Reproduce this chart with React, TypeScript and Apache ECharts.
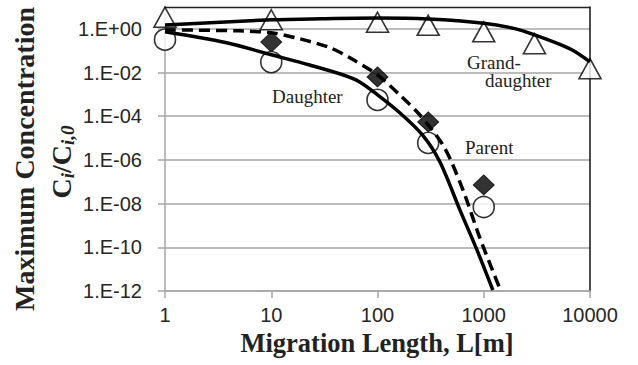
import React, { useEffect, useRef } from 'react';
import * as echarts from 'echarts';

// Axis ticks (raw values)
const xTickValues = [1, 10, 100, 1000, 10000];
const yTickValues = [1e-12, 1e-10, 1e-8, 1e-6, 1e-4, 1e-2, 1];
const yMin = 1e-12;
const yMax = 10;
const xMin = 1;
const xMax = 10000;

// Marker data
const daughterMarkerL = [1, 10, 100, 300, 1000];
const daughterMarkerC = [0.32, 0.03, 5.6e-4, 6e-6, 7e-9];
const parentMarkerL = [10, 100, 300, 1000];
const parentMarkerC = [0.25, 6.3e-3, 5.5e-5, 7.2e-8];
const grandMarkerL = [1, 10, 100, 300, 1000, 3000, 10000];
const grandMarkerC = [3.4, 2.6, 2.0, 1.45, 0.73, 0.21, 0.015];

// Curve data
const daughterLineL = [1, 3.8, 10, 23, 47, 68, 100, 163, 268, 386, 596, 861, 1218];
const daughterLineC = [0.73, 0.23, 0.065, 0.022, 7.9e-3, 3.7e-3, 9.5e-4, 1.4e-4, 1.3e-5, 8.2e-7, 5.2e-9, 7.8e-11, 1.1e-12];
const parentLineL = [1, 5, 10, 18.6, 36, 55, 100, 162, 235, 311, 412, 501, 664, 919, 1416];
const parentLineC = [0.9, 0.81, 0.66, 0.35, 0.135, 0.047, 7.8e-3, 9.5e-4, 1.6e-4, 3.2e-5, 4.9e-6, 7.4e-7, 2.5e-8, 2.7e-10, 1.3e-12];
const grandLineL = [1, 10, 30, 100, 300, 1000, 2000, 3000, 5000, 7000, 10000];
const grandLineC = [1.5, 2.6, 2.9, 3.1, 2.8, 1.8, 1.0, 0.53, 0.21, 0.1, 0.031];

const lg = (v: number) => Math.log10(v);
const pts = (xs: number[], ys: number[]) => xs.map((x, i) => [lg(x), lg(ys[i])]);

const yFmt = (v: number) => {
  const e = Math.round(v);
  if (e > 0) return '';
  const s = String(Math.abs(e)).padStart(2, '0');
  return '1.E' + (e < 0 ? '-' : '+') + s;
};
const xFmt = (v: number) => String(Math.round(Math.pow(10, v)));

export default function App() {
  const ref = useRef<HTMLDivElement>(null);
  useEffect(() => {
    if (!ref.current) return;
    const chart = echarts.init(ref.current, null, { renderer: 'svg' });
    const gridColor = '#a6a6a6';
    const labelFont = { fontFamily: 'Liberation Sans', fontSize: 20, color: '#262626' };
    const serif = 'Liberation Serif';
    chart.setOption({
      animation: false,
      grid: { left: 165, top: 7, width: 425, height: 284, containLabel: false },
      xAxis: [
        {
          type: 'value',
          min: lg(xMin),
          max: lg(xMax),
          interval: 1,
          axisLine: { show: true, onZero: false, lineStyle: { color: gridColor, width: 1.5 } },
          axisTick: { show: true, length: 7, lineStyle: { color: gridColor, width: 1.5 } },
          axisLabel: { ...labelFont, margin: 14, formatter: xFmt },
          splitLine: { show: false },
        },
        {
          type: 'value',
          position: 'top',
          min: lg(xMin),
          max: lg(xMax),
          axisLine: { show: true, onZero: false, lineStyle: { color: '#222', width: 1.3 } },
          axisTick: { show: false },
          axisLabel: { show: false },
          splitLine: { show: false },
        },
      ],
      yAxis: [
        {
          type: 'value',
          min: lg(yMin),
          max: lg(yMax),
          interval: 2,
          axisLine: { show: true, onZero: false, lineStyle: { color: gridColor, width: 1.5 } },
          axisTick: { show: true, length: 7, lineStyle: { color: gridColor, width: 1.5 }, customValues: yTickValues.map(lg) },
          axisLabel: { ...labelFont, margin: 23, formatter: yFmt, customValues: yTickValues.map(lg) },
          splitLine: { show: true, lineStyle: { color: gridColor, width: 1.5 } },
        },
        {
          type: 'value',
          position: 'right',
          min: lg(yMin),
          max: lg(yMax),
          axisLine: { show: true, onZero: false, lineStyle: { color: '#111', width: 1.5 } },
          axisTick: { show: false },
          axisLabel: { show: false },
          splitLine: { show: false },
        },
      ],
      series: [
        {
          name: 'Granddaughter curve',
          type: 'line',
          data: pts(grandLineL, grandLineC),
          showSymbol: false,
          symbol: 'none',
          smooth: 0.3,
          lineStyle: { color: '#000', width: 3.5 },
        },
        {
          name: 'Parent curve',
          type: 'line',
          data: pts(parentLineL, parentLineC),
          showSymbol: false,
          symbol: 'none',
          smooth: 0.3,
          lineStyle: { color: '#000', width: 3.5, type: [11, 6] },
        },
        {
          name: 'Daughter curve',
          type: 'line',
          data: pts(daughterLineL, daughterLineC),
          showSymbol: false,
          symbol: 'none',
          smooth: 0.3,
          lineStyle: { color: '#000', width: 3.5 },
        },
        {
          name: 'Parent',
          type: 'scatter',
          data: pts(parentMarkerL, parentMarkerC),
          symbol: 'diamond',
          symbolSize: [21, 20],
          itemStyle: { color: '#000', borderColor: '#000', borderWidth: 1 },
        },
        {
          name: 'Daughter',
          type: 'scatter',
          data: pts(daughterMarkerL, daughterMarkerC),
          symbol: 'circle',
          symbolSize: 21,
          itemStyle: { color: '#fff', borderColor: '#000', borderWidth: 1.6 },
        },
        {
          name: 'Granddaughter',
          type: 'scatter',
          data: pts(grandMarkerL, grandMarkerC),
          symbol: 'triangle',
          symbolSize: [22, 20],
          itemStyle: { color: '#fff', borderColor: '#000', borderWidth: 1.6 },
        },
      ],
      graphic: [
        { type: 'text', x: 272, y: 96, style: { text: 'Daughter', font: `19px "${serif}"`, fill: '#222', align: 'left', verticalAlign: 'middle' } },
        { type: 'text', x: 465, y: 147, style: { text: 'Parent', font: `19px "${serif}"`, fill: '#222', align: 'left', verticalAlign: 'middle' } },
        { type: 'text', x: 467, y: 62, style: { text: 'Grand-', font: `19px "${serif}"`, fill: '#222', align: 'left', verticalAlign: 'middle', lineHeight: 16 } },
        { type: 'text', x: 485, y: 80, style: { text: 'daughter', font: `19px "${serif}"`, fill: '#222', align: 'left', verticalAlign: 'middle', lineHeight: 16 } },
        { type: 'text', x: 377, y: 343, style: { text: 'Migration Length, L[m]', font: `bold 26.5px "${serif}"`, fill: '#222', align: 'center', verticalAlign: 'middle' } },
        { type: 'text', x: 24, y: 159, rotation: Math.PI / 2, style: { text: 'Maximum Concentration', font: `bold 28px "${serif}"`, fill: '#222', align: 'center', verticalAlign: 'middle' } },
        {
          type: 'text', x: 61, y: 162, rotation: Math.PI / 2,
          style: {
            text: '{m|C}{s|i}{m|/C}{s|i,0}',
            align: 'center', verticalAlign: 'middle', fill: '#222',
            rich: {
              m: { fontFamily: serif, fontWeight: 'bold', fontSize: 28, lineHeight: 32, verticalAlign: 'middle', fill: '#222' },
              s: { fontFamily: serif, fontWeight: 'bold', fontStyle: 'italic', fontSize: 19, lineHeight: 14, verticalAlign: 'bottom', fill: '#222' },
            },
          },
        },
      ],
    });
    return () => chart.dispose();
  }, []);
  return <div ref={ref} style={{ position: 'absolute', left: 0, top: 0, width: 638, height: 365 }} />;
}
